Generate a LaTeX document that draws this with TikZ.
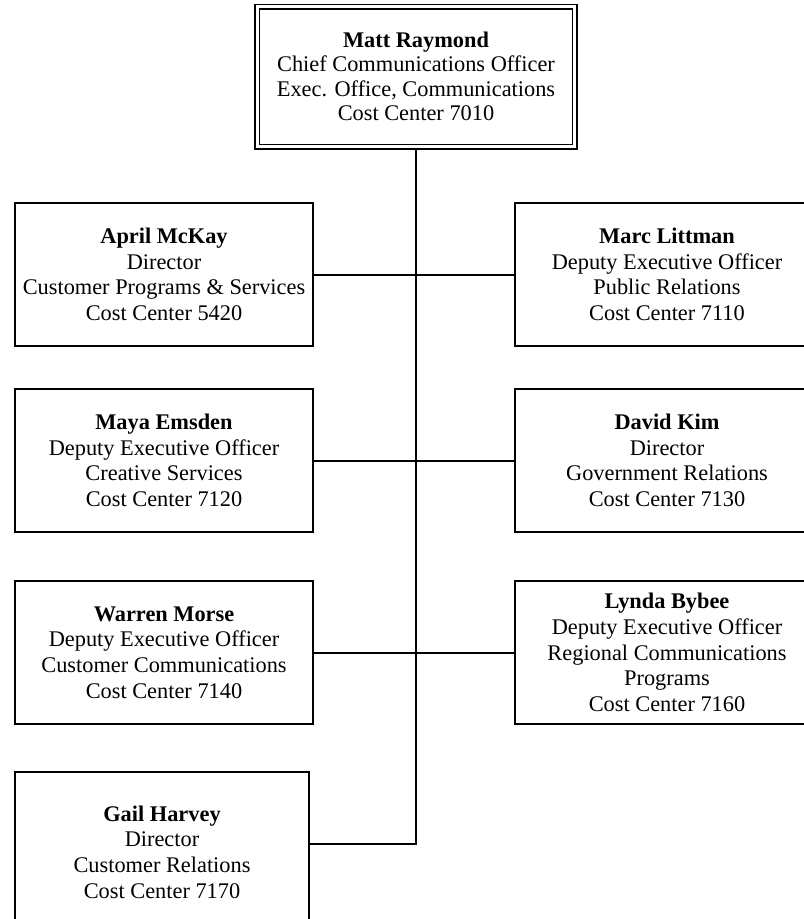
\documentclass[tikz,border=0pt]{standalone}
\usepackage{fontspec}
\setmainfont{Liberation Serif}
\usepackage{tikz}

\begin{document}
\begin{tikzpicture}[
  jefe/.style={draw, double, line width=0.04cm, double distance=0.07cm, minimum width=7.94cm, minimum height=3.5cm, align=center, inner sep=2pt, font=\fontsize{15.9}{17.3}\selectfont},
  puesto/.style={draw, line width=0.05cm, minimum width=7.45cm, minimum height=3.575cm, align=center, inner sep=2pt, font=\fontsize{15.9}{18.2}\selectfont},
  linea/.style={line width=0.05cm}]
\path[use as bounding box, clip] (0,0) rectangle (20.1,-22.975);
\node[jefe] (boss) at (10.4,-1.9125) {\textbf{Matt Raymond}\\ Chief Communications Officer\\ Exec. Office, Communications\\ Cost Center 7010};
% left column
\node[puesto] (april) at (4.1,-6.8625) {\textbf{April McKay}\\ Director\\ Customer Programs \& Services\\ Cost Center 5420};
\node[puesto] (maya) at (4.1,-11.5125) {\textbf{Maya Emsden}\\ Deputy Executive Officer\\ Creative Services\\ Cost Center 7120};
\node[puesto] (warren) at (4.1,-16.3125) {\textbf{Warren Morse}\\ Deputy Executive Officer\\ Customer Communications\\ Cost Center 7140};
\node[puesto, minimum width=7.35cm, minimum height=4.0cm] (gail) at (4.05,-21.3) {\textbf{Gail Harvey}\\ Director\\ Customer Relations\\ Cost Center 7170};
% right column
\node[puesto, minimum width=7.6cm] (marc) at (16.675,-6.8625) {\textbf{Marc Littman}\\ Deputy Executive Officer\\ Public Relations\\ Cost Center 7110};
\node[puesto, minimum width=7.6cm] (david) at (16.675,-11.5125) {\textbf{David Kim}\\ Director\\ Government Relations\\ Cost Center 7130};
\node[puesto, minimum width=7.6cm] (lynda) at (16.675,-16.3125) {\textbf{Lynda Bybee}\\ Deputy Executive Officer\\ Regional Communications\\ Programs\\ Cost Center 7160};
\draw[linea, shorten <=0.06cm] (boss.south) |- ([yshift=0.2cm]gail.east);
\draw[linea] (april) -- (marc);
\draw[linea] (maya) -- (david);
\draw[linea] (warren) -- (lynda);
\end{tikzpicture}
\end{document}
